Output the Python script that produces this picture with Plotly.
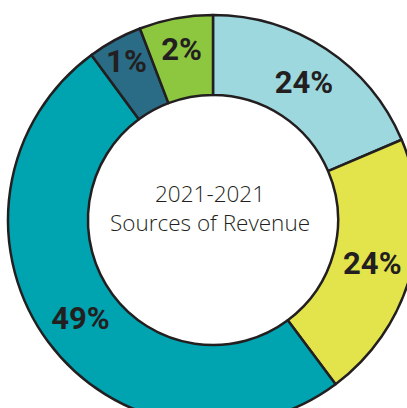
import plotly.graph_objects as go

# Slices clockwise from 12 o'clock
labels = ["Light blue", "Yellow", "Teal", "Dark teal", "Green"]
pct_text = ["24%", "24%", "49%", "1%", "2%"]          # printed labels
arc_share = [18.6, 21.2, 50.1, 4.3, 5.8]
colors = ["#9dd8df", "#e3e44c", "#00a3b0", "#2a6b86", "#8dc63f"]
title_line1 = "2021-2021"
title_line2 = "Sources of Revenue"

fig = go.Figure(go.Pie(
    labels=labels,
    values=arc_share,
    text=pct_text,
    textinfo="text",
    textposition="inside",
    insidetextorientation="horizontal",
    textfont=dict(family="Roboto, sans-serif", size=31, color="#231f20", weight="bold"),
    hole=0.61,
    sort=False,
    direction="clockwise",
    rotation=0,
    marker=dict(colors=colors, line=dict(color="#231f20", width=2.5)),
    showlegend=False,
    hoverinfo="skip",
))

fig.add_annotation(
    x=0.5, y=0.5, xref="paper", yref="paper",
    text=f"{title_line1}<br>{title_line2}",
    showarrow=False, align="center",
    xshift=-3, yshift=12,
    font=dict(family="Open Sans, sans-serif", size=22.5, color="#231f20", weight=300),
)

fig.update_layout(
    width=427, height=440, autosize=False,
    margin=dict(l=8, r=9, t=15, b=15),
    paper_bgcolor="white", plot_bgcolor="white",
    uniformtext=dict(minsize=31, mode="show"),
)

fig.write_html(
    "out.html",
    config={"displayModeBar": False},
    post_script="document.body.style.margin='0';document.body.style.overflow='hidden';",
)
